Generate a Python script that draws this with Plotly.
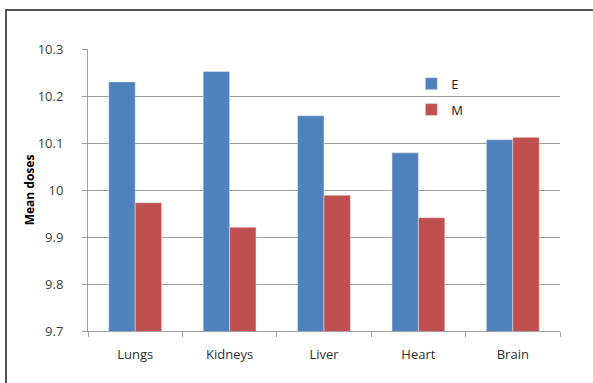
import plotly.graph_objects as go

# Mean doses per organ for the two methods
organs = ["Lungs", "Kidneys", "Liver", "Heart", "Brain"]
e_values = [10.230, 10.252, 10.158, 10.079, 10.107]
m_values = [9.973, 9.921, 9.989, 9.941, 10.112]
y_ticks = [9.7, 9.8, 9.9, 10.0, 10.1, 10.2, 10.3]
y_tick_text = ["9.7", "9.8", "9.9", "10", "10.1", "10.2", "10.3"]

W, H = 593, 383
L, R, T, B = 88, 33, 49, 52
FAMILY = "Open Sans, Liberation Sans, sans-serif"

fig = go.Figure()
fig.add_trace(go.Bar(name="E", x=organs, y=e_values, marker_color="#4F81BD",
                     legendgroup="E"))
fig.add_trace(go.Bar(name="M", x=organs, y=m_values, marker_color="#C0504D",
                     legendgroup="M"))

fig.update_layout(
    width=W, height=H,
    margin=dict(l=L, r=R, t=T, b=B),
    paper_bgcolor="white", plot_bgcolor="white",
    barmode="group", bargap=0.44, bargroupgap=0,
    font=dict(family=FAMILY, size=13, color="#404040"),
    legend=dict(x=0.685, y=0.93, xanchor="left", yanchor="top",
                traceorder="grouped", tracegroupgap=6,
                font=dict(family=FAMILY, size=13, color="#202020"),
                bgcolor="rgba(0,0,0,0)", itemwidth=30),
    showlegend=True,
)

fig.update_yaxes(range=[9.7, 10.3], tickvals=y_ticks, ticktext=y_tick_text,
                 showgrid=True, gridcolor="#A0A0A0", gridwidth=1,
                 showline=True, linecolor="#A0A0A0", linewidth=1,
                 ticks="outside", ticklen=5, tickcolor="#A0A0A0",
                 ticklabelstandoff=16, zeroline=False,
                 tickfont=dict(family=FAMILY, size=13, color="#404040"),
                 title=dict(text="<b>Mean doses</b>", standoff=0,
                            font=dict(family=FAMILY, size=12, color="#000000")))
fig.update_xaxes(showline=True, linecolor="#A0A0A0", linewidth=1,
                 ticks="outside", ticklen=5, tickcolor="#A0A0A0",
                 tickson="boundaries", showgrid=False, ticklabelstandoff=11,
                 tickfont=dict(family=FAMILY, size=13, color="#303030"))

# Chart border frame
pw, ph = W - L - R, H - T - B
fig.add_shape(type="rect", xref="paper", yref="paper",
              x0=(6 - L) / pw, x1=(W + 20 - L) / pw,
              y0=-(H + 20 - (H - B)) / ph, y1=((H - B) - 10) / ph,
              line=dict(color="#555555", width=2), fillcolor="rgba(0,0,0,0)",
              layer="below")

fig.write_html("out.html")
